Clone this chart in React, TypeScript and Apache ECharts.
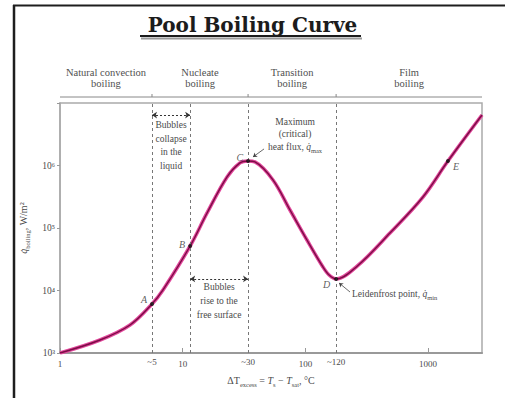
import React, { useEffect, useRef } from 'react';
import * as echarts from 'echarts';

// Boiling curve (schematic), ΔT excess in °C vs heat flux in W/m²
const deltaT = [1, 2.12, 3.72, 5.62, 6.91, 11.5, 15.8, 23.0, 29.3, 34.1, 38.8, 54.4, 74.9, 103, 139, 156, 178, 264, 489, 908, 1452, 2750];
const heatFlux = [1000, 1614, 2805, 6080, 10200, 51500, 174000, 655000, 1100000, 1180000, 1140000, 587000, 194000, 64300, 23800, 17700, 15300, 24500, 83200, 313000, 1180000, 6430000];

const keyLabels = ['A', 'B', 'C', 'D', 'E'];
const keyDeltaT = [5.62, 11.5, 34.1, 178, 1452];
const keyFlux = [6080, 51500, 1180000, 15300, 1180000];

const boundaryLabels = ['~5', '', '~30', '~120'];
const regimeNames = ['Natural convection\nboiling', 'Nucleate\nboiling', 'Transition\nboiling', 'Film\nboiling'];
const regimeEdges = [1, 5.62, 34.1, 178, 2750];

const xTickLabels = ['1', '10', '100', '1000'];
const yTickLabels = ['10³', '10⁴', '10⁵', '10⁶'];

const X_MIN = 1;
const X_MAX = 2750;
const Y_MIN = 1e3;
const Y_MAX = 1e7;

const SERIF = 'Liberation Serif';
const TXT = '#4a4a4a';

const subRich = {
  n: { fontSize: 10, lineHeight: 15, verticalAlign: 'middle' as const },
  q: { fontSize: 10, lineHeight: 15, verticalAlign: 'middle' as const, fontStyle: 'italic' as const },
  i: { fontSize: 10, lineHeight: 15, verticalAlign: 'middle' as const, fontStyle: 'italic' as const },
  s: { fontSize: 6.5, lineHeight: 8, verticalAlign: 'bottom' as const },
};

export default function App() {
  const ref = useRef<HTMLDivElement>(null);

  useEffect(() => {
    document.body.style.margin = '0';
    if (!ref.current) return;
    const chart = echarts.init(ref.current, null, { renderer: 'svg' });

    const curve = deltaT.map((x, i) => [x, heatFlux[i]]);
    const keyPts = keyDeltaT.map((x, i) => [x, keyFlux[i]]);
    const labelPlacement: any[] = [
      { position: 'left', offset: [0, -5] },
      { position: 'left', offset: [0, -2] },
      { position: 'left', offset: [0, -4] },
      { position: 'left', offset: [-1, 6] },
      { position: 'right', offset: [0, 5] },
    ];

    const bA = keyDeltaT[0], bB = keyDeltaT[1], bC = keyDeltaT[2];
    const arrowTopFlux = 6.4e6;
    const arrowBotFlux = 15300;

    const option: any = {
      animation: false,
      backgroundColor: '#fff',
      title: {
        text: 'Pool Boiling Curve',
        left: 'center',
        top: 10,
        textStyle: { fontFamily: 'DejaVu Serif', fontWeight: 'bold', fontSize: 20, color: '#1c1c1c' },
      },
      grid: { left: 60, right: 23, top: 103, bottom: 45, show: true, borderColor: '#aaa', borderWidth: 1.5, backgroundColor: 'transparent' },
      xAxis: {
        type: 'log',
        logBase: 10,
        min: X_MIN,
        max: X_MAX,
        name: '{n|ΔT}{s|excess}{n| = }{i|T}{s|s}{n| − }{i|T}{s|sat}{n|, °C}',
        nameLocation: 'middle',
        nameGap: 20,
        nameTextStyle: { fontFamily: SERIF, color: TXT, fontSize: 10, rich: subRich },
        axisLine: { show: true, lineStyle: { color: '#999', width: 2 } },
        axisTick: { show: true, inside: true, length: 5, lineStyle: { color: '#999' } },
        axisLabel: {
          fontFamily: SERIF, fontSize: 9, color: TXT, margin: 6, showMaxLabel: false,
          formatter: (v: number) => {
            const l = Math.log10(v);
            const e = Math.round(l);
            if (Math.abs(l - e) > 0.01) return '';
            return xTickLabels[e] ?? '';
          },
        },
        splitLine: { show: false },
      },
      yAxis: {
        type: 'log',
        logBase: 10,
        min: Y_MIN,
        max: Y_MAX,
        name: '{q|q̇}{s|boiling}{n|, W/m²}',
        nameLocation: 'middle',
        nameGap: 24,
        nameTextStyle: { fontFamily: SERIF, color: TXT, fontSize: 10, rich: subRich },
        axisLine: { show: true, lineStyle: { color: '#aaa', width: 1.5 } },
        axisTick: { show: true, inside: false, length: 3, lineStyle: { color: '#999' } },
        axisLabel: {
          fontFamily: SERIF, fontSize: 9.5, color: TXT, margin: 5,
          formatter: (v: number) => {
            const e = Math.round(Math.log10(v));
            return e >= 3 && e <= 6 ? yTickLabels[e - 3] : '';
          },
        },
        splitLine: { show: false },
      },
      series: [
        {
          type: 'line',
          data: curve,
          smooth: 0.35,
          showSymbol: false,
          symbol: 'none',
          silent: true,
          lineStyle: { color: '#e2489c', width: 3.6 },
          z: 2,
        },
        {
          type: 'line',
          data: curve,
          smooth: 0.35,
          showSymbol: false,
          symbol: 'none',
          silent: true,
          lineStyle: { color: '#7c0d46', width: 1.4 },
          z: 3,
          markLine: {
            silent: true,
            symbol: ['none', 'none'],
            lineStyle: { type: [3, 3], color: '#777', width: 1 },
            label: { position: 'start', distance: 4, color: TXT, fontFamily: SERIF, fontSize: 9 },
            emphasis: { disabled: true },
            data: keyDeltaT.slice(0, 4).map((v, i) => ({
              xAxis: v,
              label: { show: boundaryLabels[i] !== '', formatter: boundaryLabels[i] || ' ' },
            })),
          },
        },
        {
          type: 'scatter',
          data: keyPts.map((p, i) => ({ value: p, name: keyLabels[i], label: labelPlacement[i] })),
          symbol: 'circle',
          symbolSize: 4,
          itemStyle: { color: '#111' },
          silent: true,
          z: 5,
          label: {
            show: true,
            formatter: (p: any) => p.name,
            fontFamily: SERIF,
            fontStyle: 'italic',
            fontSize: 10,
            color: '#333',
            distance: 3,
          },
          markLine: {
            silent: true,
            symbolSize: 5,
            lineStyle: { color: '#444', width: 0.8, type: 'solid' },
            label: { show: false },
            emphasis: { disabled: true },
            data: [
              [
                { coord: [bA, arrowTopFlux], symbol: 'arrow', lineStyle: { type: [2, 2], color: '#333', width: 1 } },
                { coord: [bB, arrowTopFlux], symbol: 'arrow' },
              ],
              [
                { coord: [bB, arrowBotFlux], symbol: 'arrow', lineStyle: { type: [2, 2], color: '#333', width: 1 } },
                { coord: [bC, arrowBotFlux], symbol: 'arrow' },
              ],
              [
                { coord: [37.4, 1.37e6], symbol: 'arrow', symbolSize: 4 },
                { coord: [46, 1.84e6], symbol: 'none' },
              ],
              [
                { coord: [188, 13200], symbol: 'arrow', symbolSize: 4 },
                { coord: [231, 9460], symbol: 'none' },
              ],
            ],
          },
          markPoint: {
            silent: true,
            symbol: 'circle',
            symbolSize: 0,
            itemStyle: { color: 'transparent' },
            label: { show: true, position: 'inside', color: TXT, fontFamily: SERIF, fontSize: 9.5, lineHeight: 13 },
            data: [
              {
                coord: [Math.sqrt(bA * bB), 2.09e6],
                label: { formatter: 'Bubbles\ncollapse\nin the\nliquid', lineHeight: 13.5 },
              },
              {
                coord: [Math.sqrt(bB * bC), 6790],
                label: { formatter: 'Bubbles\nrise to the\nfree surface', lineHeight: 14 },
              },
              {
                coord: [82.3, 3.1e6],
                label: {
                  formatter: 'Maximum\n(critical)\nheat flux, {q|q̇}{s|max}',
                  lineHeight: 12,
                  rich: {
                    q: { fontSize: 9.5, lineHeight: 14, fontStyle: 'italic', verticalAlign: 'middle', color: TXT, fontFamily: SERIF },
                    s: { fontSize: 6.5, lineHeight: 7, verticalAlign: 'bottom', color: TXT, fontFamily: SERIF },
                  },
                },
              },
              {
                coord: [240, 8790],
                label: {
                  position: 'right',
                  distance: 0,
                  formatter: 'Leidenfrost point, {q|q̇}{s|min}',
                  rich: {
                    q: { fontSize: 9.5, lineHeight: 14, fontStyle: 'italic', verticalAlign: 'middle', color: TXT, fontFamily: SERIF },
                    s: { fontSize: 6.5, lineHeight: 7, verticalAlign: 'bottom', color: TXT, fontFamily: SERIF },
                  },
                },
              },
            ],
          },
        },
      ],
    };

    chart.setOption(option);

    const px = (v: number) => chart.convertToPixel({ xAxisIndex: 0 }, v) as number;
    const py = (v: number) => chart.convertToPixel({ yAxisIndex: 0 }, v) as number;
    const plotTop = py(Y_MAX);
    const edgePx = regimeEdges.map(px);
    const headerY = plotTop - 6;

    const graphic: any[] = [
      // frame
      { type: 'line', shape: { x1: 14, y1: 5, x2: 14, y2: 398 }, style: { stroke: '#1e1e1e', lineWidth: 2.5 } },
      { type: 'line', shape: { x1: 13, y1: 5.5, x2: 505, y2: 5.5 }, style: { stroke: '#1e1e1e', lineWidth: 2 } },
      // title underline with shadow
      { type: 'line', shape: { x1: 141, y1: 38.5, x2: 362, y2: 38.5 }, style: { stroke: '#9a9a9a', lineWidth: 2 } },
      { type: 'line', shape: { x1: 140, y1: 36, x2: 361, y2: 36 }, style: { stroke: '#1c1c1c', lineWidth: 2 } },
      // header line
      { type: 'line', shape: { x1: edgePx[0], y1: headerY, x2: edgePx[4], y2: headerY }, style: { stroke: '#888', lineWidth: 1 } },
    ];
    for (let i = 1; i < edgePx.length - 1; i++) {
      graphic.push({ type: 'line', shape: { x1: edgePx[i], y1: headerY - 3, x2: edgePx[i], y2: headerY }, style: { stroke: '#888', lineWidth: 1 } });
    }
    regimeNames.forEach((name, i) => {
      graphic.push({
        type: 'text',
        x: (edgePx[i] + edgePx[i + 1]) / 2,
        y: headerY - 19,
        style: {
          text: name,
          fill: '#505050',
          font: `10.5px "${SERIF}"`,
          align: 'center',
          verticalAlign: 'middle',
          lineHeight: 11.5,
        },
      });
    });

    chart.setOption({ graphic });

    return () => {
      chart.dispose();
    };
  }, []);

  return <div ref={ref} style={{ width: 505, height: 398 }} />;
}
